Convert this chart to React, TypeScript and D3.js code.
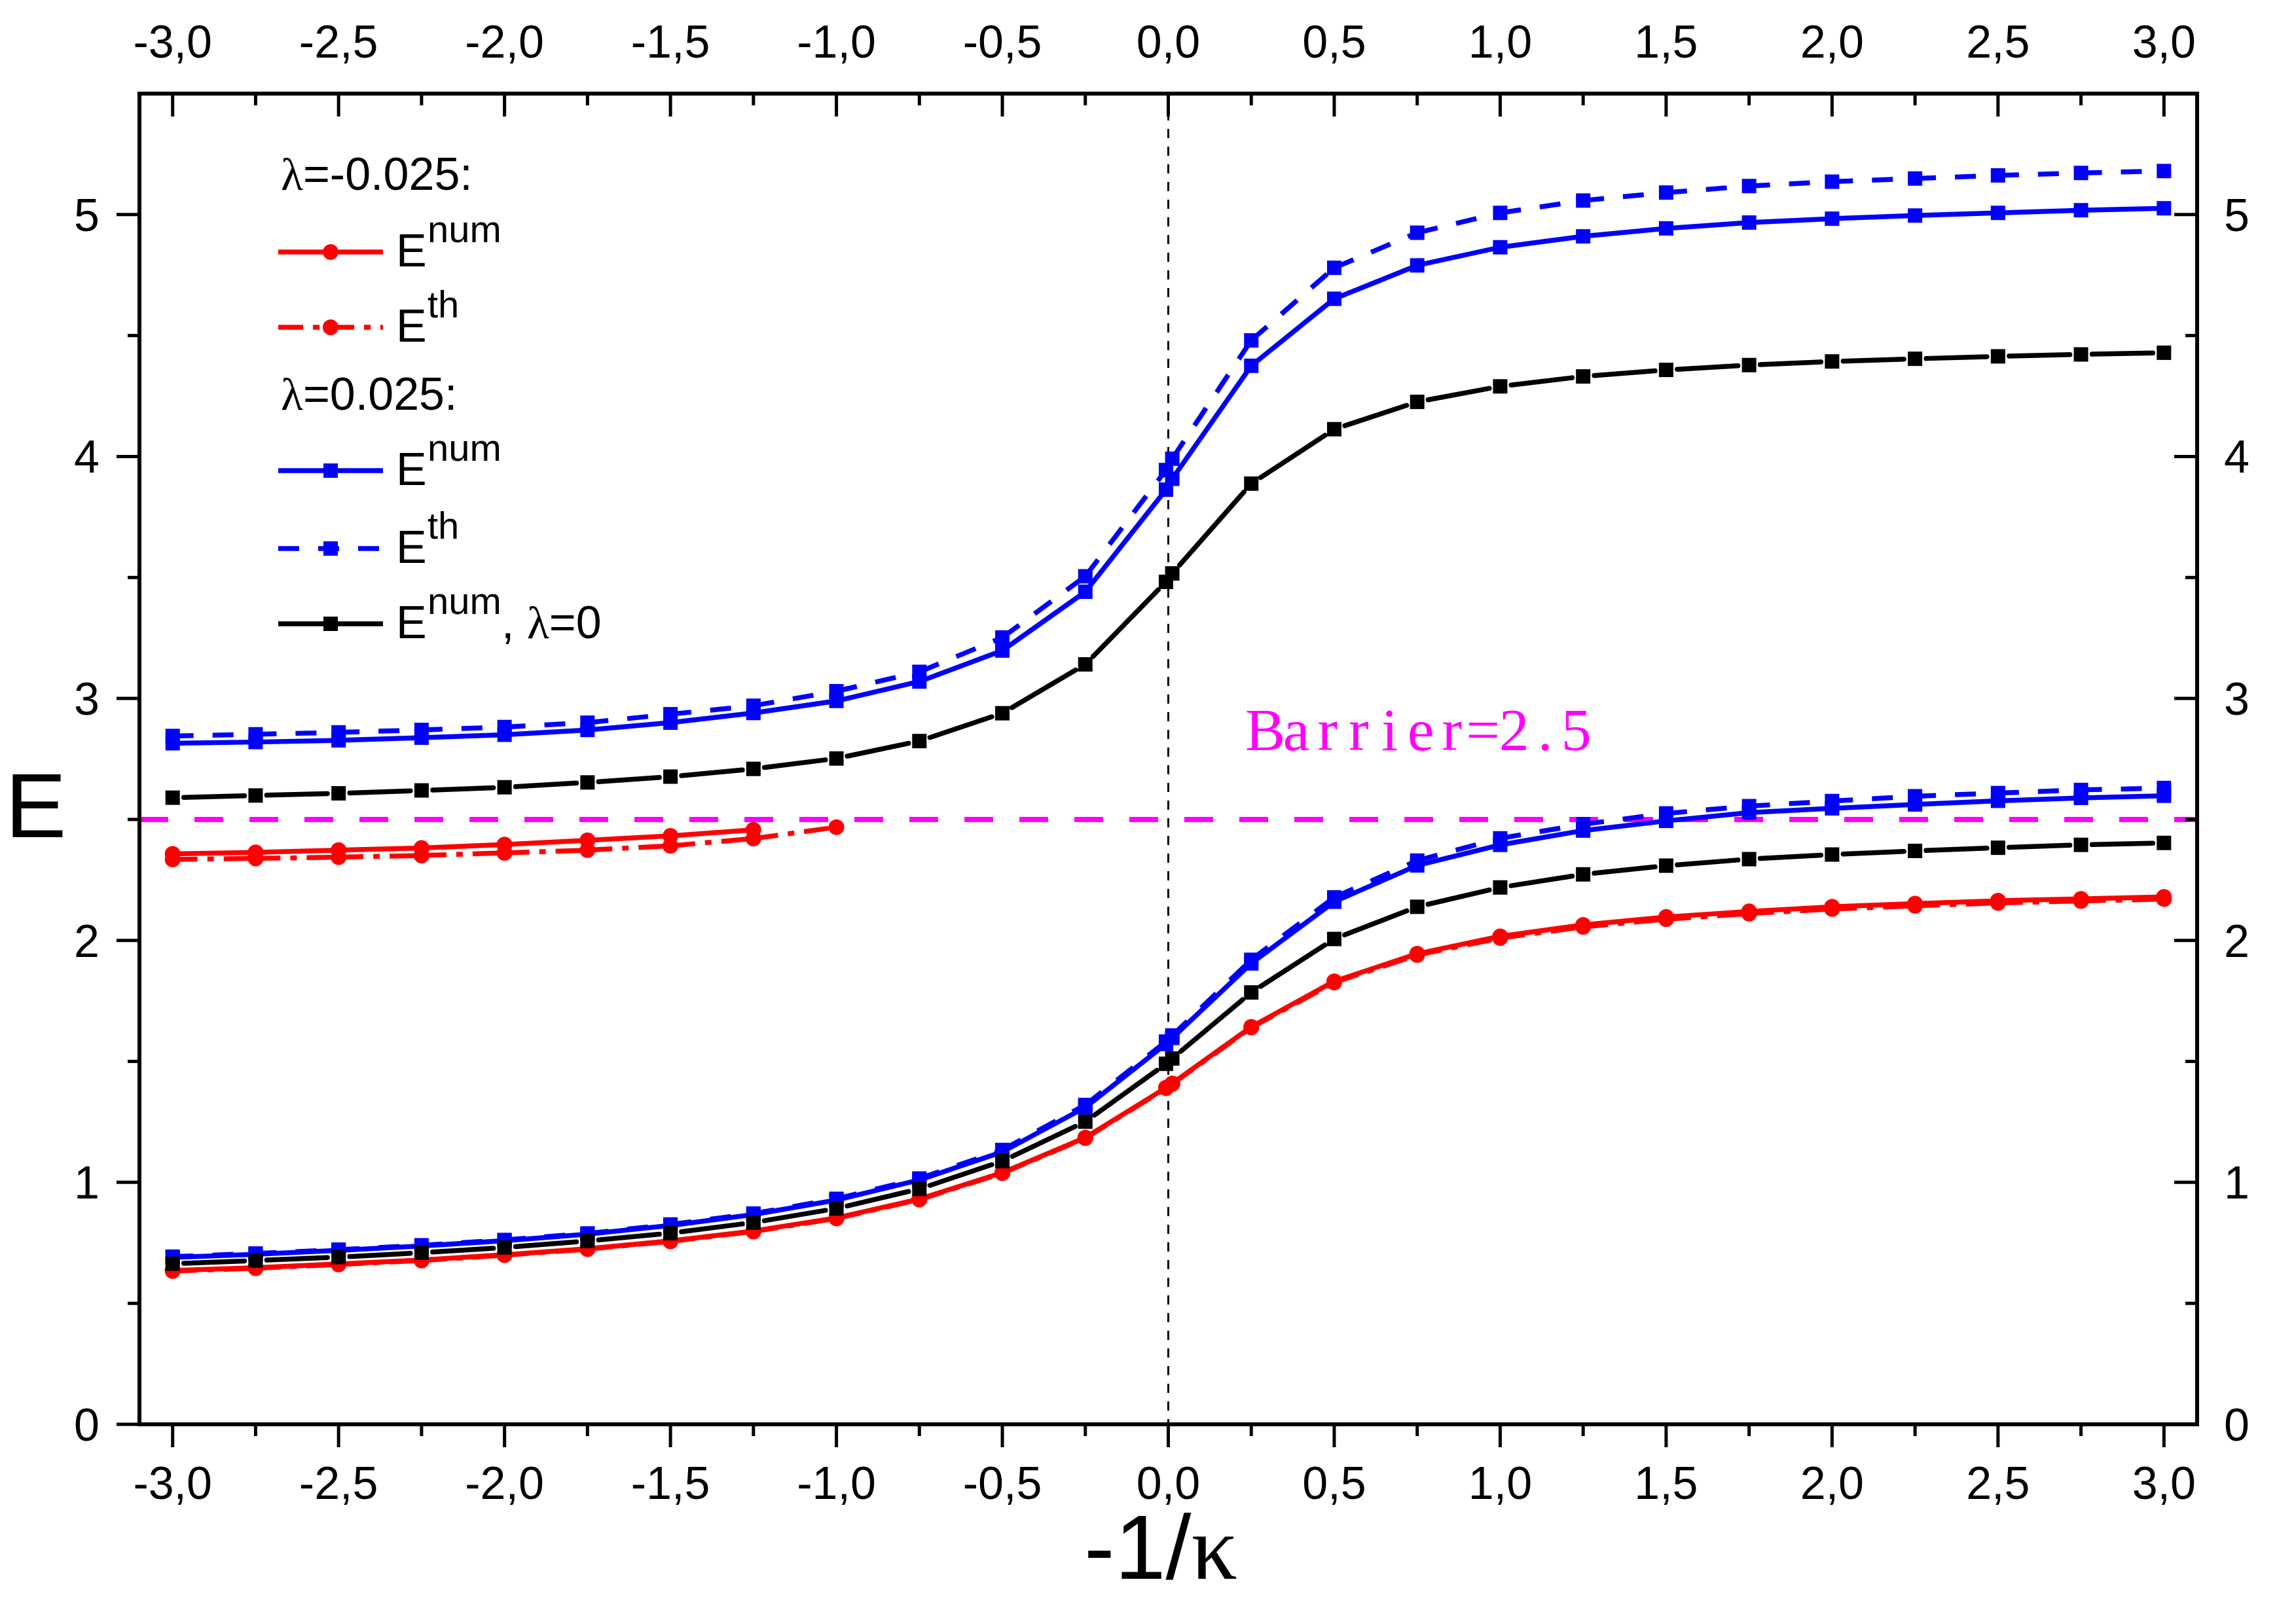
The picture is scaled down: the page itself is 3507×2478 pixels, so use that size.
import React from 'react';
import * as d3 from 'd3';

// ---------- data ----------
const xValues = [-3, -2.75, -2.5, -2.25, -2, -1.75, -1.5, -1.25, -1, -0.75, -0.5, -0.25, -0.007, 0.012, 0.25, 0.5, 0.75, 1, 1.25, 1.5, 1.75, 2, 2.25, 2.5, 2.75, 3];

// lambda = -0.025 (red)
const redNumUpper = [2.358, 2.364, 2.373, 2.382, 2.396, 2.414, 2.432, 2.457];
const redThUpper = [2.335, 2.339, 2.344, 2.351, 2.362, 2.373, 2.391, 2.421, 2.468];
const redNumLower = [0.636, 0.647, 0.663, 0.679, 0.701, 0.726, 0.758, 0.799, 0.853, 0.931, 1.04, 1.185, 1.391, 1.409, 1.643, 1.831, 1.945, 2.017, 2.064, 2.097, 2.12, 2.139, 2.152, 2.164, 2.172, 2.18];
const redThLower = [0.634, 0.645, 0.661, 0.677, 0.699, 0.724, 0.756, 0.797, 0.851, 0.929, 1.038, 1.183, 1.389, 1.407, 1.64, 1.826, 1.94, 2.01, 2.056, 2.088, 2.111, 2.13, 2.143, 2.155, 2.163, 2.171];

// lambda = 0.025 (blue)
const blueNumUpper = [2.815, 2.82, 2.827, 2.838, 2.85, 2.87, 2.9, 2.94, 2.99, 3.07, 3.198, 3.441, 3.863, 3.908, 4.375, 4.652, 4.79, 4.865, 4.91, 4.943, 4.967, 4.983, 4.996, 5.007, 5.018, 5.026];
const blueThUpper = [2.845, 2.852, 2.86, 2.87, 2.882, 2.9, 2.935, 2.97, 3.03, 3.11, 3.252, 3.505, 3.944, 3.991, 4.48, 4.78, 4.925, 5.007, 5.058, 5.091, 5.118, 5.136, 5.149, 5.162, 5.172, 5.18];
const blueNumLower = [0.69, 0.703, 0.719, 0.737, 0.759, 0.786, 0.822, 0.867, 0.927, 1.01, 1.126, 1.31, 1.572, 1.597, 1.905, 2.16, 2.31, 2.395, 2.454, 2.494, 2.528, 2.546, 2.562, 2.577, 2.589, 2.598];
const blueThLower = [0.693, 0.706, 0.722, 0.74, 0.762, 0.789, 0.826, 0.871, 0.932, 1.016, 1.134, 1.32, 1.582, 1.607, 1.92, 2.178, 2.33, 2.422, 2.48, 2.525, 2.555, 2.576, 2.596, 2.609, 2.622, 2.63];

// lambda = 0 (black)
const blackNumUpper = [2.59, 2.599, 2.608, 2.62, 2.633, 2.653, 2.677, 2.709, 2.752, 2.824, 2.939, 3.141, 3.482, 3.517, 3.888, 4.113, 4.226, 4.29, 4.331, 4.358, 4.378, 4.393, 4.404, 4.414, 4.422, 4.429];
const blackNumLower = [0.664, 0.677, 0.691, 0.709, 0.731, 0.758, 0.79, 0.834, 0.892, 0.973, 1.088, 1.251, 1.49, 1.512, 1.785, 2.006, 2.139, 2.219, 2.273, 2.309, 2.336, 2.355, 2.37, 2.383, 2.395, 2.403];

const barrierValue = 2.5;
const barrierLabel = 'Barrier=2.5';

const xMajorTicks = [-3, -2.5, -2, -1.5, -1, -0.5, 0, 0.5, 1, 1.5, 2, 2.5, 3];
const xTickLabels = ['-3,0', '-2,5', '-2,0', '-1,5', '-1,0', '-0,5', '0,0', '0,5', '1,0', '1,5', '2,0', '2,5', '3,0'];
const xMinorTicks = [-2.75, -2.25, -1.75, -1.25, -0.75, -0.25, 0.25, 0.75, 1.25, 1.75, 2.25, 2.75];
const yMajorTicks = [0, 1, 2, 3, 4, 5];
const yTickLabels = ['0', '1', '2', '3', '4', '5'];
const yMinorTicks = [0.5, 1.5, 2.5, 3.5, 4.5];

// ---------- layout ----------
const W = 3507;
const H = 2478;
const M = { left: 213, right: 3356, top: 143, bottom: 2176 };
const SANS = '"Liberation Sans", Arial, sans-serif';
const SERIF = '"Liberation Serif", "Times New Roman", serif';
const RED = '#ff0000';
const BLUE = '#0000ff';
const BLACK = '#000000';
const MAGENTA = '#ff00ff';
const LW = 7.5;
const SQ = 22;
const CR = 12;
const DASH = '32 29';
const DASHDOT = '38 15 10 15';

type Pt = [number, number];

const x = d3.scaleLinear().domain([-3.1, 3.1]).range([M.left, M.right]);
const y = d3.scaleLinear().domain([0, 5.5]).range([M.bottom, M.top]);

function pts(vals: number[]): Pt[] {
  return vals.map((v, i) => [x(xValues[i]), y(v)] as Pt);
}

type SeriesProps = {
  points: Pt[];
  color: string;
  dash?: string;
  marker: 'circle' | 'square';
  gap?: number;
};

function Series({ points, color, dash, marker, gap }: SeriesProps) {
  const lineGen = d3.line<Pt>().x(d => d[0]).y(d => d[1]);
  let lines: React.ReactNode;
  if (!dash && !gap) {
    lines = <path d={lineGen(points) || ''} fill="none" stroke={color} strokeWidth={LW} strokeLinejoin="round" />;
  } else {
    lines = points.slice(1).map((p1, i) => {
      const p0 = points[i];
      let [x0, y0] = p0;
      let [x1, y1] = p1;
      if (gap) {
        const dx = x1 - x0, dy = y1 - y0;
        const len = Math.hypot(dx, dy);
        if (len <= 2 * gap + 2) return null;
        const ux = dx / len, uy = dy / len;
        x0 += ux * gap; y0 += uy * gap; x1 -= ux * gap; y1 -= uy * gap;
      }
      return (
        <line key={i} x1={x0} y1={y0} x2={x1} y2={y1} stroke={color} strokeWidth={LW}
          strokeDasharray={dash} strokeLinecap={gap ? 'round' : 'butt'} />
      );
    });
  }
  return (
    <g>
      {lines}
      {points.map((p, i) =>
        marker === 'circle'
          ? <circle key={'m' + i} cx={p[0]} cy={p[1]} r={CR} fill={color} />
          : <rect key={'m' + i} x={p[0] - SQ / 2} y={p[1] - SQ / 2} width={SQ} height={SQ} fill={color} />
      )}
    </g>
  );
}

function LegendRow({ yc, color, dash, marker, sup, extra }: { yc: number; color: string; dash?: string; marker: 'circle' | 'square'; sup: string; extra?: boolean }) {
  const lx0 = 425, lx1 = 585, mx = 505;
  const base = yc + 22;
  return (
    <g>
      <line x1={lx0} y1={yc} x2={lx1} y2={yc} stroke={color} strokeWidth={LW} strokeDasharray={dash} />
      {marker === 'circle'
        ? <circle cx={mx} cy={yc} r={CR} fill={color} />
        : <rect x={mx - SQ / 2} y={yc - SQ / 2} width={SQ} height={SQ} fill={color} />}
      <text x={605} y={base} fontFamily={SANS} fontSize={70} fill="#000">E</text>
      <text x={653} y={base - 37} fontFamily={SANS} fontSize={58} fill="#000">{sup}</text>
      {extra && (
        <text x={766} y={base} fontFamily={SANS} fontSize={70} fill="#000">
          {', '}<tspan fontFamily={SERIF}>λ</tspan>=0
        </text>
      )}
    </g>
  );
}

export default function App() {
  const x0 = x(0);
  const yb = y(barrierValue);
  const xs8 = xValues.slice(0, 8);
  const xs9 = xValues.slice(0, 9);
  const redNumUpperPts: Pt[] = redNumUpper.map((v, i) => [x(xs8[i]), y(v)]);
  const redThUpperPts: Pt[] = redThUpper.map((v, i) => [x(xs9[i]), y(v)]);
  const chars = barrierLabel.split('');
  const adv = 47.5;

  return (
    <svg width={W} height={H} viewBox={`0 0 ${W} ${H}`} style={{ position: 'absolute', left: 0, top: 0, background: '#fff' }}>
      <rect x={0} y={0} width={W} height={H} fill="#fff" />

      {/* reference lines */}
      <line x1={x0} y1={M.top} x2={x0} y2={M.bottom} stroke="#000" strokeWidth={3} strokeDasharray="14 13" />
      <line x1={M.left} y1={yb} x2={M.right} y2={yb} stroke={MAGENTA} strokeWidth={8} strokeDasharray="44 40" />

      {/* data */}
      <Series points={pts(redNumLower)} color={RED} marker="circle" />
      <Series points={pts(redThLower)} color={RED} marker="circle" dash={DASHDOT} />
      <Series points={redNumUpperPts} color={RED} marker="circle" />
      <Series points={redThUpperPts} color={RED} marker="circle" dash={DASHDOT} />
      <Series points={pts(blueNumLower)} color={BLUE} marker="square" />
      <Series points={pts(blueThLower)} color={BLUE} marker="square" dash={DASH} />
      <Series points={pts(blueNumUpper)} color={BLUE} marker="square" />
      <Series points={pts(blueThUpper)} color={BLUE} marker="square" dash={DASH} />
      <Series points={pts(blackNumLower)} color={BLACK} marker="square" gap={17} />
      <Series points={pts(blackNumUpper)} color={BLACK} marker="square" gap={17} />

      {/* frame */}
      <rect x={M.left} y={M.top} width={M.right - M.left} height={M.bottom - M.top} fill="none" stroke="#000" strokeWidth={6} />

      {/* x ticks bottom (outward) and top (inward) */}
      {xMajorTicks.map((t, i) => (
        <g key={'xt' + i}>
          <line x1={x(t)} y1={M.bottom} x2={x(t)} y2={M.bottom + 35} stroke="#000" strokeWidth={5} />
          <line x1={x(t)} y1={M.top} x2={x(t)} y2={M.top + 35} stroke="#000" strokeWidth={5} />
          <text x={x(t)} y={2290} textAnchor="middle" fontFamily={SANS} fontSize={70}>{xTickLabels[i]}</text>
          <text x={x(t)} y={88} textAnchor="middle" fontFamily={SANS} fontSize={70}>{xTickLabels[i]}</text>
        </g>
      ))}
      {xMinorTicks.map((t, i) => (
        <g key={'xm' + i}>
          <line x1={x(t)} y1={M.bottom} x2={x(t)} y2={M.bottom + 18} stroke="#000" strokeWidth={5} />
          <line x1={x(t)} y1={M.top} x2={x(t)} y2={M.top + 18} stroke="#000" strokeWidth={5} />
        </g>
      ))}

      {/* y ticks left (outward) and right (inward) */}
      {yMajorTicks.map((t, i) => (
        <g key={'yt' + i}>
          <line x1={M.left - 35} y1={y(t)} x2={M.left} y2={y(t)} stroke="#000" strokeWidth={5} />
          <line x1={M.right - 35} y1={y(t)} x2={M.right} y2={y(t)} stroke="#000" strokeWidth={5} />
          <text x={152} y={y(t) + 25} textAnchor="end" fontFamily={SANS} fontSize={70}>{yTickLabels[i]}</text>
          <text x={3397} y={y(t) + 25} textAnchor="start" fontFamily={SANS} fontSize={70}>{yTickLabels[i]}</text>
        </g>
      ))}
      {yMinorTicks.map((t, i) => (
        <g key={'ym' + i}>
          <line x1={M.left - 18} y1={y(t)} x2={M.left} y2={y(t)} stroke="#000" strokeWidth={5} />
          <line x1={M.right - 18} y1={y(t)} x2={M.right} y2={y(t)} stroke="#000" strokeWidth={5} />
        </g>
      ))}

      {/* axis titles */}
      <text x={8} y={1279} fontFamily={SANS} fontSize={140}>E</text>
      <text x={1773} y={2412} textAnchor="middle" fontFamily={SANS} fontSize={140}>
        -1/<tspan fontFamily={SERIF}>κ</tspan>
      </text>

      {/* barrier label (monospaced serif look) */}
      <text y={1146} fontFamily={SERIF} fontSize={92} fill={MAGENTA} textAnchor="middle">
        {chars.map((c, i) => (
          <tspan key={i} x={1909 + adv / 2 + i * adv}>{c}</tspan>
        ))}
      </text>

      {/* legend */}
      <text x={429} y={290} fontFamily={SANS} fontSize={70}>
        <tspan fontFamily={SERIF}>λ</tspan>=-0.025:
      </text>
      <LegendRow yc={385} color={RED} marker="circle" sup="num" />
      <LegendRow yc={500} color={RED} marker="circle" dash={DASHDOT} sup="th" />
      <text x={429} y={626} fontFamily={SANS} fontSize={70}>
        <tspan fontFamily={SERIF}>λ</tspan>=0.025:
      </text>
      <LegendRow yc={719} color={BLUE} marker="square" sup="num" />
      <LegendRow yc={838} color={BLUE} marker="square" dash={DASH} sup="th" />
      <LegendRow yc={953} color={BLACK} marker="square" sup="num" extra />
    </svg>
  );
}
